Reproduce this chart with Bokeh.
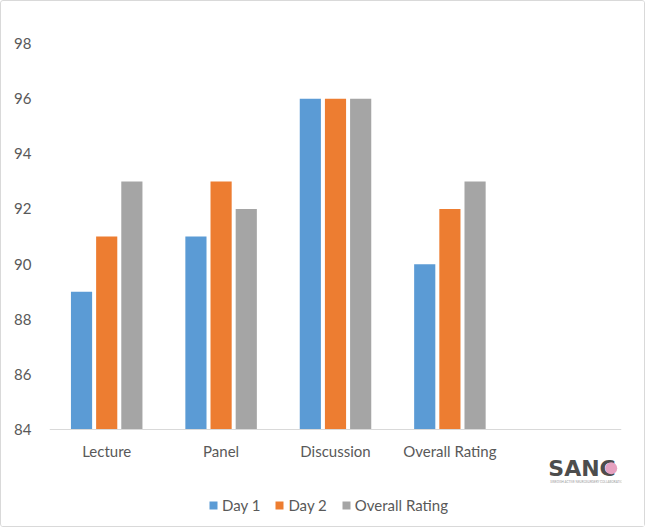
from bokeh.plotting import figure
from bokeh.models import Legend, LegendItem, ColumnDataSource, Range1d
from bokeh.core.properties import value
from bokeh.transform import dodge
from bokeh.embed import file_html
from bokeh.resources import INLINE

categories = ["Lecture", "Panel", "Discussion", "Overall Rating", " "]
day1 = [89, 91, 96, 90, float("nan")]
day2 = [91, 93, 96, 92, float("nan")]
overall = [93, 92, 96, 93, float("nan")]
series_names = ["Day 1", "Day 2", "Overall Rating"]
colors = ["#5B9BD5", "#ED7D31", "#A5A5A5"]
y_ticks = [84, 86, 88, 90, 92, 94, 96, 98]
y_base = 84

src = ColumnDataSource(dict(cat=categories, d1=day1, d2=day2, ov=overall))

FONT = "Lato"
TXT = "#595959"

p = figure(x_range=categories, y_range=Range1d(80.45, 98), width=645, height=527,
           output_backend="svg", toolbar_location=None,
           min_border_left=48, min_border_right=25, min_border_top=42, min_border_bottom=1)
p.styles = {"border": "1px solid #D9D9D9", "border-radius": "3px"}
p.outline_line_color = None
p.xgrid.grid_line_color = None
p.ygrid.grid_line_color = None
p.xaxis.visible = False

renderers = []
for col, off, c in zip(["d1", "d2", "ov"], [-0.22, 0.0, 0.22], colors):
    r = p.vbar(x=dodge("cat", off, range=p.x_range), top=col, bottom=y_base, width=0.185,
               source=src, fill_color=c, line_color=None)
    renderers.append(r)

# category axis line and labels
p.hspan(y=[y_base], line_color="#D9D9D9", line_width=1)
p.text(x=categories[:4], y=[y_base - 0.76] * 4, text=categories[:4],
       text_font=value(FONT), text_font_size="15px", text_color=TXT,
       text_align="center", text_baseline="middle")

p.yaxis.ticker = y_ticks
p.yaxis.axis_line_color = None
p.yaxis.major_tick_line_color = None
p.yaxis.minor_tick_line_color = None
p.yaxis.major_label_text_font = FONT
p.yaxis.major_label_text_font_size = "15px"
p.yaxis.major_label_text_color = TXT
p.yaxis.major_label_standoff = 12

legend = Legend(items=[LegendItem(label=n, renderers=[r]) for n, r in zip(series_names, renderers)],
                orientation="horizontal", location=(159, 13), padding=10,
                label_text_font=FONT, label_text_font_size="15px", label_text_color=TXT,
                glyph_width=10, glyph_height=10, spacing=14, label_standoff=4,
                border_line_color=None, background_fill_alpha=0)
p.add_layout(legend, "center")

# logo
logo_src = ColumnDataSource(dict(x=[" "], y=[82.6]))
p.text(x=[" "], y=[82.6], text=["SANC"], x_offset=-16, text_font=value("DejaVu Sans"),
       text_font_style="bold", text_font_size="22px", text_color="#4D4D4D",
       text_baseline="middle")
p.scatter(x=dodge("x", 0.41, range=p.x_range), y="y", source=logo_src, size=12, marker="circle",
          fill_color="#E5A1C0", line_color=None)
p.text(x=[" "], y=[82.1], text=["SWEDISH ACTIVE NEUROSURGERY COLLABORATION"], x_offset=-14,
       text_font=value(FONT), text_font_size="3px", text_color="#999999", text_baseline="middle")

open("out.html", "w").write(file_html(p, INLINE))
